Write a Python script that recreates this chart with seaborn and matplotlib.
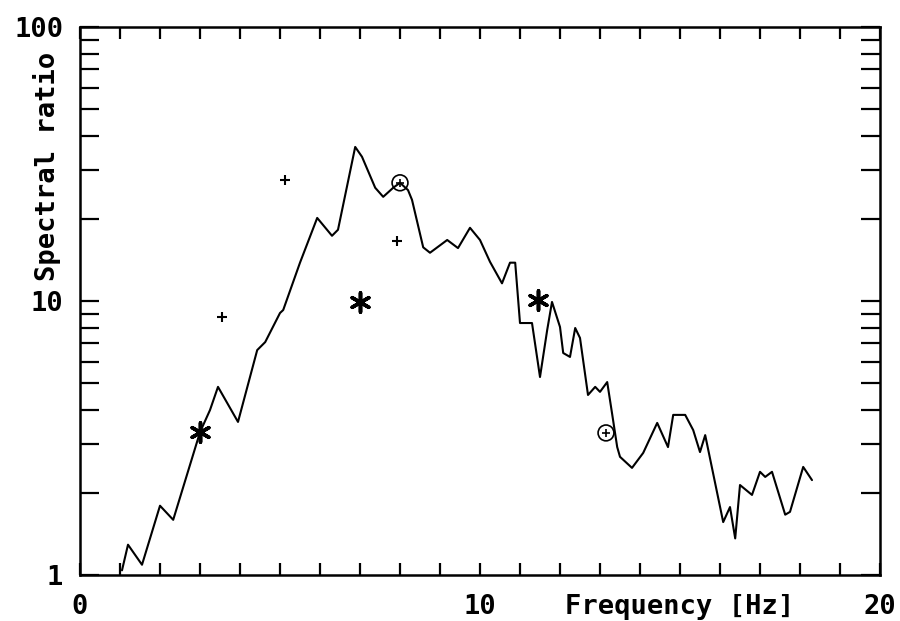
import numpy as np
import pandas as pd
import matplotlib
matplotlib.use("Agg")
import matplotlib.pyplot as plt
import matplotlib.ticker as mticker
import seaborn as sns

# --- datos ---
freq = [1.05, 1.2, 1.55, 2.0, 2.33, 3.0, 3.25, 3.45, 3.95, 4.43, 4.63, 5.0, 5.08,
        5.5, 5.93, 6.3, 6.45, 6.88, 7.05, 7.38, 7.58, 7.83, 8.0, 8.2, 8.3, 8.58,
        8.75, 9.18, 9.45, 9.75, 10.0, 10.25, 10.55, 10.75, 10.88, 11.0, 11.3, 11.5,
        11.68, 11.8, 12.0, 12.08, 12.25, 12.38, 12.5, 12.7, 12.88, 13.0, 13.18,
        13.3, 13.43, 13.5, 13.8, 14.08, 14.43, 14.7, 14.83, 15.13, 15.33, 15.5,
        15.63, 16.08, 16.25, 16.38, 16.5, 16.8, 17.0, 17.13, 17.3, 17.63, 17.75,
        18.08, 18.3]
ratio = [1.04, 1.29, 1.09, 1.79, 1.59, 3.32, 4.0, 4.86, 3.62, 6.62, 7.08, 9.04, 9.27,
         13.8, 20.1, 17.3, 18.2, 36.5, 33.6, 25.9, 24.0, 25.9, 27.0, 25.4, 23.4, 15.7,
         15.0, 16.7, 15.6, 18.5, 16.7, 13.9, 11.6, 13.8, 13.8, 8.31, 8.31, 5.28,
         7.84, 9.92, 8.04, 6.46, 6.25, 7.97, 7.33, 4.54, 4.86, 4.66, 5.06,
         3.90, 2.93, 2.70, 2.46, 2.79, 3.59, 2.93, 3.84, 3.84, 3.38, 2.81,
         3.24, 1.56, 1.77, 1.36, 2.13, 1.96, 2.38, 2.28, 2.38, 1.66, 1.70,
         2.48, 2.22]

star_f = [3.0, 7.0, 11.45]
star_r = [3.32, 9.9, 10.1]
plus_f = [3.55, 5.13, 7.93]
plus_r = [8.74, 27.7, 16.6]
circ_f = [8.0, 13.15]
circ_r = [27.0, 3.30]

df = pd.DataFrame({"f": freq, "r": ratio})

sns.set_style("ticks")
plt.rcParams["font.family"] = ["DejaVu Sans Mono"]
plt.rcParams["font.weight"] = "bold"
plt.rcParams["text.color"] = "black"
plt.rcParams["axes.labelcolor"] = "black"

fig = plt.figure(figsize=(9, 6.21), dpi=100)
ax = fig.add_axes([80 / 900, 1 - 575 / 621, 800 / 900, 548 / 621])

sns.lineplot(data=df, x="f", y="r", color="black", linewidth=1.5,
             estimator=None, sort=False, ax=ax)
ax.scatter(star_f, star_r, marker=(6, 2, 0), s=190, color="black", linewidths=2.6, zorder=5)
ax.scatter(plus_f, plus_r, marker="+", s=45, color="black", linewidths=1.5, zorder=5)
ax.scatter(circ_f, circ_r, marker="o", s=130, facecolors="none", edgecolors="black",
           linewidths=1.2, zorder=5)
ax.scatter(circ_f, circ_r, marker="+", s=35, color="black", linewidths=1.2, zorder=5)

ax.set_yscale("log")
ax.set_xlim(0, 20)
ax.set_ylim(1, 100)

ax.set_xticks([0, 10, 20])
ax.set_xticklabels(["0", "10", "20"])
ax.xaxis.set_minor_locator(mticker.MultipleLocator(1))
ax.set_yticks([1, 10, 100])
ax.set_yticklabels(["1", "10", "100"])
ax.yaxis.set_minor_locator(mticker.LogLocator(base=10, subs=np.arange(2, 10)))
ax.yaxis.set_minor_formatter(mticker.NullFormatter())

ax.tick_params(which="both", direction="in", top=True, right=True, width=1.6,
               color="black", labelcolor="black", labelsize=19.5)
ax.tick_params(axis="x", which="both", length=8.6, pad=14)
ax.tick_params(axis="y", which="both", length=13.5, pad=12)

for sp in ax.spines.values():
    sp.set_linewidth(1.8)
    sp.set_color("black")

ax.set_xlabel("Frequency [Hz]", fontsize=19.5, fontweight="bold")
ax.xaxis.set_label_coords(0.75, -0.035)
ax.set_ylabel("Spectral ratio", fontsize=19.5, fontweight="bold")
ax.yaxis.set_label_coords(-0.024, 0.745)

fig.savefig("out.png", dpi=100)
